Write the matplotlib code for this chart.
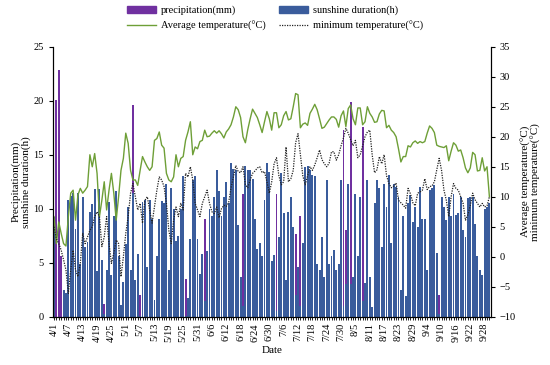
import matplotlib
matplotlib.use("Agg")
import matplotlib.pyplot as plt
import numpy as np
from matplotlib.patches import Patch
from matplotlib.lines import Line2D

plt.rcParams['font.family'] = ['Liberation Serif', 'DejaVu Serif']

# daily values 4/1 .. 9/30 (183 days), six values per row
sunshine = [
    9.2, 0.0, 0.0, 0.0, 2.5, 2.2,
    10.8, 11.2, 11.5, 8.1, 11.5, 4.9,
    11.1, 6.5, 6.9, 9.7, 10.4, 11.8,
    4.2, 11.8, 5.3, 0.3, 4.3, 10.6,
    3.9, 9.3, 11.6, 5.6, 1.1, 3.2,
    6.7, 10.2, 4.3, 11.5, 3.4, 5.8,
    0.1, 10.6, 10.8, 4.6, 10.8, 9.1,
    1.6, 5.6, 9.1, 10.7, 10.5, 12.3,
    4.3, 11.9, 10.0, 7.0, 7.5, 10.0,
    13.0, 0.1, 1.7, 7.2, 12.7, 13.0,
    7.2, 4.0, 5.8, 1.5, 6.1, 10.0,
    9.3, 11.1, 13.6, 11.6, 9.3, 11.1,
    12.5, 10.5, 14.2, 13.7, 13.6, 8.5,
    3.7, 1.0, 14.0, 13.6, 13.6, 12.8,
    9.1, 6.3, 6.8, 5.6, 10.8, 14.2,
    13.4, 5.2, 5.7, 0.5, 7.4, 13.3,
    9.6, 3.4, 9.7, 11.1, 8.3, 2.0,
    4.6, 1.0, 6.8, 13.9, 14.0, 13.6,
    13.1, 13.0, 4.9, 4.3, 7.4, 3.7,
    12.7, 4.9, 5.6, 6.2, 4.3, 4.9,
    12.7, 1.0, 3.0, 12.3, 3.0, 3.7,
    11.4, 5.6, 11.1, 1.5, 3.1, 12.7,
    3.7, 0.9, 10.5, 12.7, 11.9, 6.5,
    12.3, 10.2, 13.1, 6.8, 12.3, 12.0,
    11.1, 2.5, 9.3, 1.9, 10.5, 11.3,
    8.8, 10.2, 8.3, 12.0, 9.1, 9.1,
    4.3, 11.7, 11.9, 12.2, 5.9, 0.3,
    11.1, 10.2, 9.0, 11.1, 9.3, 11.4,
    9.4, 9.6, 11.1, 8.0, 7.4, 11.0,
    11.1, 11.1, 8.6, 5.6, 4.3, 3.9,
    10.0, 10.2, 10.5,
]

precipitation = [
    0, 20.1, 22.8, 5.6, 2.5, 0,
    0, 0, 0, 0, 0, 0,
    0, 0, 0, 0, 0, 0,
    0, 0, 0, 1.2, 0, 0,
    0, 0, 0, 0, 0, 0,
    0, 0, 0, 19.6, 0, 0,
    2.0, 0, 0, 0, 0, 0,
    0, 0, 0, 0, 0, 0,
    0, 0, 0, 0, 0, 0,
    0, 3.5, 0, 0, 0, 0,
    0, 0, 0, 9.1, 0, 0,
    0, 0, 0, 0, 0, 0,
    0, 0, 0, 0, 0, 0,
    0, 11.4, 0, 0, 0, 0,
    0, 0, 0, 0, 0, 0,
    0, 0, 0, 11.4, 0, 0,
    0, 0, 0, 0, 0, 7.7,
    0, 9.3, 0, 0, 0, 0,
    0, 0, 0, 0, 0, 0,
    0, 0, 0, 0, 0, 0,
    0, 17.3, 8.0, 0, 19.9, 0,
    0, 0, 0, 17.6, 0, 0,
    0, 0, 0, 0, 0, 0,
    0, 0, 0, 0, 0, 0,
    0, 0, 0, 0, 0, 0,
    0, 0, 0, 0, 0, 0,
    0, 0, 0, 0, 4.5, 2.0,
    0, 0, 0, 0, 0, 0,
    0, 0, 0, 0, 0, 0,
    0, 0, 0, 0, 0, 0,
    0, 0, 0,
]

avg_temp = [
    6.7, 2.2, 5.8, 3.9, 2.2, 1.8,
    6.7, 10.6, 11.1, 6.1, 10.3, 11.4,
    10.6, 11.1, 11.7, 17.0, 15.0, 17.2,
    13.9, 6.7, 9.4, 12.5, 7.8, 11.1,
    13.9, 10.6, 6.1, 10.0, 14.4, 16.4,
    20.6, 18.9, 14.4, 12.8, 12.8, 11.9,
    14.4, 16.7, 15.8, 15.0, 14.4, 15.0,
    19.4, 19.7, 20.8, 18.6, 18.1, 13.9,
    12.8, 12.5, 13.3, 17.0, 15.0, 16.4,
    16.7, 19.4, 20.8, 22.5, 17.0, 18.3,
    18.0, 19.2, 19.4, 21.1, 20.0, 20.1,
    20.6, 21.0, 20.6, 21.0, 20.5, 19.8,
    20.8, 21.3, 22.0, 23.3, 25.0, 24.5,
    23.2, 20.0, 19.0, 21.2, 23.0, 24.6,
    23.9, 23.2, 22.0, 20.7, 22.5, 24.2,
    23.0, 21.1, 24.0, 24.0, 21.5, 22.0,
    23.5, 24.2, 22.8, 23.0, 25.0, 27.2,
    27.0, 21.5, 22.1, 22.3, 21.9, 23.9,
    24.6, 25.4, 24.5, 23.0, 21.4, 21.6,
    22.2, 22.8, 23.3, 23.3, 22.9, 21.6,
    23.5, 24.3, 21.7, 24.7, 25.3, 23.0,
    22.0, 24.8, 24.8, 22.0, 22.5, 25.0,
    23.9, 23.3, 22.4, 22.5, 23.8, 24.4,
    24.3, 21.5, 21.9, 21.1, 20.7, 20.0,
    18.0, 15.8, 16.7, 16.7, 18.5, 18.3,
    19.0, 19.3, 18.9, 19.2, 19.0, 19.2,
    20.6, 21.8, 21.4, 20.7, 18.6, 18.4,
    18.3, 18.2, 18.5, 16.0, 17.6, 19.0,
    18.6, 17.6, 17.8, 16.5, 14.8, 14.0,
    14.8, 17.4, 17.0, 14.3, 14.4, 16.5,
    14.3, 15.0, 10.0,
]

min_temp = [
    5.0, 3.0, 2.2, 1.1, -0.5, -2.2,
    -6.1, -2.2, 1.1, -2.2, -3.3, -1.1,
    3.9, 2.2, 3.3, 4.4, 5.0, 6.7,
    7.5, 6.7, 1.7, 3.3, 6.7, 2.2,
    -1.1, 0.6, 2.8, 2.2, -3.3, 0.0,
    3.9, 6.7, 10.6, 12.2, 10.0, 7.8,
    8.9, 5.6, 9.4, 10.0, 7.8, 5.6,
    8.3, 11.1, 13.3, 12.8, 11.7, 8.9,
    4.4, 2.2, 6.1, 8.3, 6.7, 8.9,
    7.8, 13.9, 13.3, 15.0, 12.8, 8.9,
    7.8, 6.7, 8.9, 10.0, 11.1, 8.9,
    7.5, 7.2, 8.3, 6.5, 8.0, 8.6,
    8.4, 9.0, 11.5, 13.3, 15.2, 14.2,
    14.0, 15.0, 12.0, 11.5, 12.8, 13.9,
    14.3, 14.8, 15.0, 14.0, 14.2, 12.5,
    10.6, 12.5, 15.5, 16.5, 13.5, 12.0,
    12.5, 18.3, 12.5, 13.0, 14.4, 19.0,
    20.5, 17.0, 13.5, 12.0, 13.5, 15.0,
    14.4, 15.3, 16.5, 17.8, 16.2, 15.5,
    15.0, 15.6, 17.5, 17.5, 16.1, 17.0,
    18.5, 19.8, 21.4, 20.6, 19.5, 18.5,
    19.4, 16.5, 17.0, 18.5, 20.0, 20.8,
    21.1, 17.0, 14.0, 14.5, 16.7, 15.5,
    17.0, 13.5, 12.2, 11.5, 11.8, 12.3,
    9.4, 9.0, 8.6, 8.1, 11.4, 10.5,
    9.0, 8.5, 10.6, 10.8, 11.1, 13.0,
    11.2, 11.7, 11.8, 12.5, 14.5, 16.4,
    14.4, 11.1, 9.4, 6.7, 10.0, 12.2,
    11.4, 11.1, 10.0, 8.9, 6.1, 7.0,
    8.5, 10.6, 9.5, 8.9, 8.3, 8.9,
    8.3, 8.5, 10.0,
]

tick_labels = ['4/1', '4/7', '4/13', '4/19', '4/25', '5/1', '5/7', '5/13', '5/19',
               '5/25', '5/31', '6/6', '6/12', '6/18', '6/24', '6/30', '7/6', '7/12',
               '7/18', '7/24', '7/30', '8/5', '8/11', '8/17', '8/23', '8/29', '9/4',
               '9/10', '9/16', '9/22', '9/28']

purple = '#7030A0'
blue = '#3A5C9C'
green = '#6E9F37'

days = np.arange(len(sunshine))

fig = plt.figure(figsize=(5.5, 3.65), dpi=100)
ax = fig.add_axes([0.096, 0.132, 0.796, 0.740])

# precipitation behind, sunshine in front (overlapping columns)
ax.bar(days, precipitation, width=0.8, color=purple, linewidth=0)
ax.bar(days, sunshine, width=0.8, color=blue, linewidth=0)
ax.set_ylim(0, 25)
ax.set_yticks(range(0, 26, 5))
ax.set_xlim(-0.5, len(days) - 0.5)
ax.set_xticks(np.arange(0, len(days), 6))
ax.set_xticklabels(tick_labels, rotation=90, fontsize=7.5)
ax.set_xticks(days, minor=True)
ax.tick_params(axis='x', which='both', direction='out', length=2.5, width=0.6, pad=2)
ax.tick_params(axis='y', labelsize=7.5, direction='out', length=3, width=0.8)
ax.spines['top'].set_visible(False)
ax.set_ylabel('Precipitation(mm)\nsunshine duration(h)', fontsize=8, linespacing=1.0, labelpad=2)
ax.set_xlabel('Date', fontsize=8, labelpad=3)

ax2 = ax.twinx()
ax2.plot(days, avg_temp, color=green, linewidth=1.0)
ax2.plot(days, min_temp, color='#222222', linewidth=0.9, linestyle=(0, (1, 1)))
ax2.set_ylim(-10, 35)
ax2.set_yticks(range(-10, 36, 5))
ax2.tick_params(axis='y', labelsize=7.5, direction='out', length=3, width=0.8)
ax2.spines['top'].set_visible(False)
ax2.set_ylabel('Average temperature(\u00b0C)\nminimum temperature(\u00b0C)', fontsize=8,
               linespacing=1.0, labelpad=4)

handles = [
    Patch(color=purple, label='precipitation(mm)'),
    Line2D([], [], color=green, linewidth=1.0, label='Average temperature(\u00b0C)'),
    Patch(color=blue, label='sunshine duration(h)'),
    Line2D([], [], color='#222222', linewidth=0.9, linestyle=(0, (1, 1)),
           label='minimum temperature(\u00b0C)'),
]
fig.legend(handles=handles, loc='upper center', bbox_to_anchor=(0.5, 1.01), ncol=2,
           frameon=False, fontsize=7.5, handlelength=2.8, handleheight=0.6,
           columnspacing=1.2, labelspacing=0.5, handletextpad=0.5)

fig.savefig('out.png', dpi=100)
